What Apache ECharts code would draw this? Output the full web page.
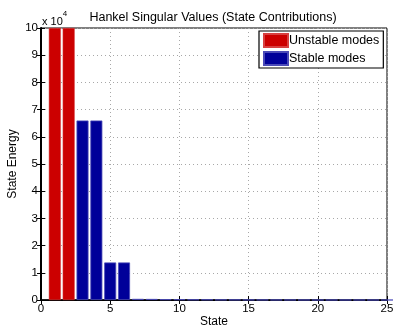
<!DOCTYPE html>
<html>
<head>
<meta charset="utf-8">
<script src="https://cdn.jsdelivr.net/npm/echarts@6/dist/echarts.min.js"></script>
<style>
  html, body { margin: 0; padding: 0; background: #fff; }
  #chart { width: 394px; height: 327px; }
</style>
</head>
<body>
<div id="chart"></div>
<script>
// Hankel singular values per state (state energy)
const unstableStates = [1, 2];
const unstableValues = [100000, 100000];          // infinite energy, shown clipped at the top
const stableStates = [3, 4, 5, 6, 7, 8, 9, 10, 11, 12, 13, 14, 15, 16, 17, 18, 19, 20, 21, 22, 23, 24, 25];
const stableValues = [66000, 66000, 13800, 13800, 420, 390, 260, 240, 170, 150, 110, 95, 70, 60, 45, 38, 26, 22, 15, 12, 8, 6, 4];
const yTicks = [0, 1, 2, 3, 4, 5, 6, 7, 8, 9, 10];  // in units of 10^4
const xTicks = [0, 5, 10, 15, 20, 25];
const yScale = 10000;

const FONT = 'Liberation Sans, Arial, Helvetica, sans-serif';
const RED = '#cc0000';
const BLUE = '#000099';

const chart = echarts.init(document.getElementById('chart'), null, { renderer: 'canvas' });

const pairs = (xs, ys) => xs.map((x, i) => [x, ys[i]]);

const gridLine = { show: true, lineStyle: { color: '#a8a8a8', type: [1, 3], width: 1 } };

chart.setOption({
  animation: false,
  backgroundColor: '#fff',
  title: {
    text: 'Hankel Singular Values (State Contributions)',
    left: 208, top: 6, textAlign: 'center',
    textStyle: { fontFamily: FONT, fontSize: 12.5, fontWeight: 'normal', color: '#000' }
  },
  grid: { left: 41, right: 7, top: 28, bottom: 27, outerBoundsMode: 'none',
          show: true, borderColor: '#000', borderWidth: 1 },
  legend: {
    orient: 'vertical', left: 259, top: 31,
    backgroundColor: '#fff', borderColor: '#000', borderWidth: 1.2,
    padding: [2, 4, 2, 4], itemGap: 3, itemWidth: 24, itemHeight: 13,
    icon: 'rect',
    textStyle: { fontFamily: FONT, fontSize: 12.5, color: '#000', padding: [0, 0, 0, -4] },
    data: ['Unstable modes', 'Stable modes']
  },
  graphic: [{
    type: 'text', left: 42, top: 10,
    style: {
      text: '{a|x 10}{b|4}', fontFamily: FONT,
      rich: {
        a: { fontSize: 11, fontFamily: FONT, fill: '#000', verticalAlign: 'bottom', padding: [6, 0, 0, 0] },
        b: { fontSize: 8, fontFamily: FONT, fill: '#000', verticalAlign: 'top', padding: [0, 0, 6, 0] }
      }
    }
  }],
  xAxis: [{
    type: 'value', min: 0, max: 25, interval: 5,
    name: 'State', nameLocation: 'middle', nameGap: 16, nameMoveOverlap: false,
    nameTextStyle: { fontFamily: FONT, fontSize: 12, color: '#000' },
    axisLine: { show: true, onZero: false, lineStyle: { color: '#000', width: 1.5 } },
    axisTick: { show: true, inside: true, length: 4, lineStyle: { color: '#000' } },
    axisLabel: { fontFamily: FONT, fontSize: 11.5, color: '#000', margin: 3,
      formatter: v => xTicks.includes(v) ? String(v) : '' },
    splitLine: gridLine
  }, {
    type: 'value', position: 'top', min: 0, max: 25, interval: 5,
    axisLine: { show: true, lineStyle: { color: '#000' } },
    axisTick: { show: true, inside: true, length: 4, lineStyle: { color: '#000' } },
    axisLabel: { show: false }, splitLine: { show: false }
  }],
  yAxis: [{
    type: 'value', min: 0, max: 100000, interval: 10000,
    name: 'State Energy', nameLocation: 'middle', nameGap: 22, nameMoveOverlap: false,
    nameTextStyle: { fontFamily: FONT, fontSize: 12, color: '#000' },
    axisLine: { show: true, onZero: false, lineStyle: { color: '#000', width: 2 } },
    axisTick: { show: true, inside: true, length: 4, lineStyle: { color: '#000' } },
    axisLabel: { fontFamily: FONT, fontSize: 11.5, color: '#000', margin: 3,
      formatter: v => { const t = Math.round(v / yScale); return yTicks.includes(t) ? String(t) : ''; } },
    splitLine: gridLine
  }, {
    type: 'value', position: 'right', min: 0, max: 100000, interval: 10000,
    axisLine: { show: true, lineStyle: { color: '#000' } },
    axisTick: { show: true, inside: true, length: 4, lineStyle: { color: '#000' } },
    axisLabel: { show: false }, splitLine: { show: false }
  }],
  series: [{
    name: 'Unstable modes', type: 'bar', barWidth: 12, barGap: '-100%', clip: true,
    itemStyle: { color: RED, borderColor: '#d84040', borderWidth: 0.5 },
    data: pairs(unstableStates, unstableValues)
  }, {
    name: 'Stable modes', type: 'bar', barWidth: 12, barGap: '-100%', clip: true,
    itemStyle: { color: BLUE, borderColor: '#4a4ab8', borderWidth: 0.8 },
    data: pairs(stableStates, stableValues)
  }]
});
</script>
</body>
</html>
